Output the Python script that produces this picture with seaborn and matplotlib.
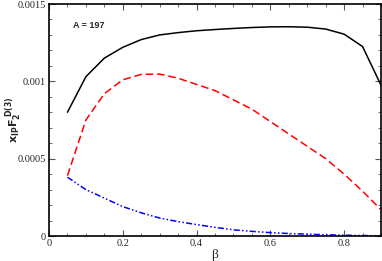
import numpy as np
import pandas as pd
import matplotlib
matplotlib.use("Agg")
import matplotlib.pyplot as plt
import seaborn as sns
from matplotlib.ticker import MultipleLocator, FixedLocator

beta = [0.05, 0.1, 0.15, 0.2, 0.25, 0.3, 0.35, 0.4, 0.45, 0.5,
        0.55, 0.6, 0.65, 0.7, 0.75, 0.8, 0.85, 0.9]
total = [0.0008, 0.00103, 0.00115, 0.00122, 0.00127, 0.0013, 0.001315, 0.001327, 0.001335,
         0.001342, 0.001348, 0.001352, 0.001353, 0.00135, 0.001338, 0.001305, 0.001225, 0.000975]
quark = [0.00039, 0.00075, 0.00092, 0.00101, 0.001045, 0.001047, 0.00102, 0.00098, 0.00094,
         0.00088, 0.00082, 0.00074, 0.00066, 0.00058, 0.0005, 0.0004, 0.00029, 0.00017]
gluon = [0.00038, 0.0003, 0.000245, 0.00019, 0.00015, 0.000116, 0.000093, 0.000074, 0.000056,
         0.00004, 0.00003, 0.000022, 0.000016, 0.000012, 0.000008, 0.000005, 0.000003, 0.000001]

df = pd.DataFrame({"beta": beta, "total": total, "quark": quark, "gluon": gluon})

sns.set_style("ticks")
plt.rcParams["font.family"] = ["Liberation Serif", "DejaVu Serif"]

fig = plt.figure(figsize=(3.82, 2.61), dpi=100)
ax = fig.add_axes([49 / 382, 25 / 261, 332 / 382, 232 / 261])

sns.lineplot(data=df, x="beta", y="total", color="black", linewidth=1.1, ax=ax)
sns.lineplot(data=df, x="beta", y="quark", color="#ff0000", linewidth=1.1,
             linestyle=(0, (5, 2.5)), ax=ax)
sns.lineplot(data=df, x="beta", y="gluon", color="#0000ff", linewidth=1.1,
             linestyle=(0, (4, 1.5, 1, 1.5, 1, 1.5)), ax=ax)

ax.set_xlim(0, 0.9)
ax.set_ylim(0, 0.0015)
ax.xaxis.set_major_locator(FixedLocator([0, 0.2, 0.4, 0.6, 0.8]))
ax.xaxis.set_minor_locator(MultipleLocator(0.05))
ax.yaxis.set_major_locator(FixedLocator([0, 0.0005, 0.001, 0.0015]))
ax.yaxis.set_minor_locator(MultipleLocator(0.0001))
ax.set_xticklabels(["0", "0.2", "0.4", "0.6", "0.8"])
ax.set_yticklabels(["0", "0.0005", "0.001", "0.0015"])
ax.tick_params(which="both", direction="in", top=True, right=True, labelsize=7.5,
               color="#555555", pad=2)
ax.tick_params(which="major", length=4, width=0.8)
ax.tick_params(which="minor", length=2.5, width=0.6)
for s in ax.spines.values():
    s.set_linewidth(1.2)
    s.set_color("black")

ax.set_xlabel("β", fontsize=9.5, labelpad=1)
ax.set_ylabel(r"$\mathbf{x_{IP}F_2^{\ D(3)}}$", fontsize=8,
              family=["Liberation Sans", "DejaVu Sans"])
ax.yaxis.set_label_coords(-0.108, 0.5)
ax.yaxis.label.set_va("center")
ax.text(0.065, 0.00136, "A = 197", fontsize=6.5, fontweight="bold",
        family=["Liberation Sans", "DejaVu Sans"], va="center")

fig.savefig("out.png", dpi=100)
